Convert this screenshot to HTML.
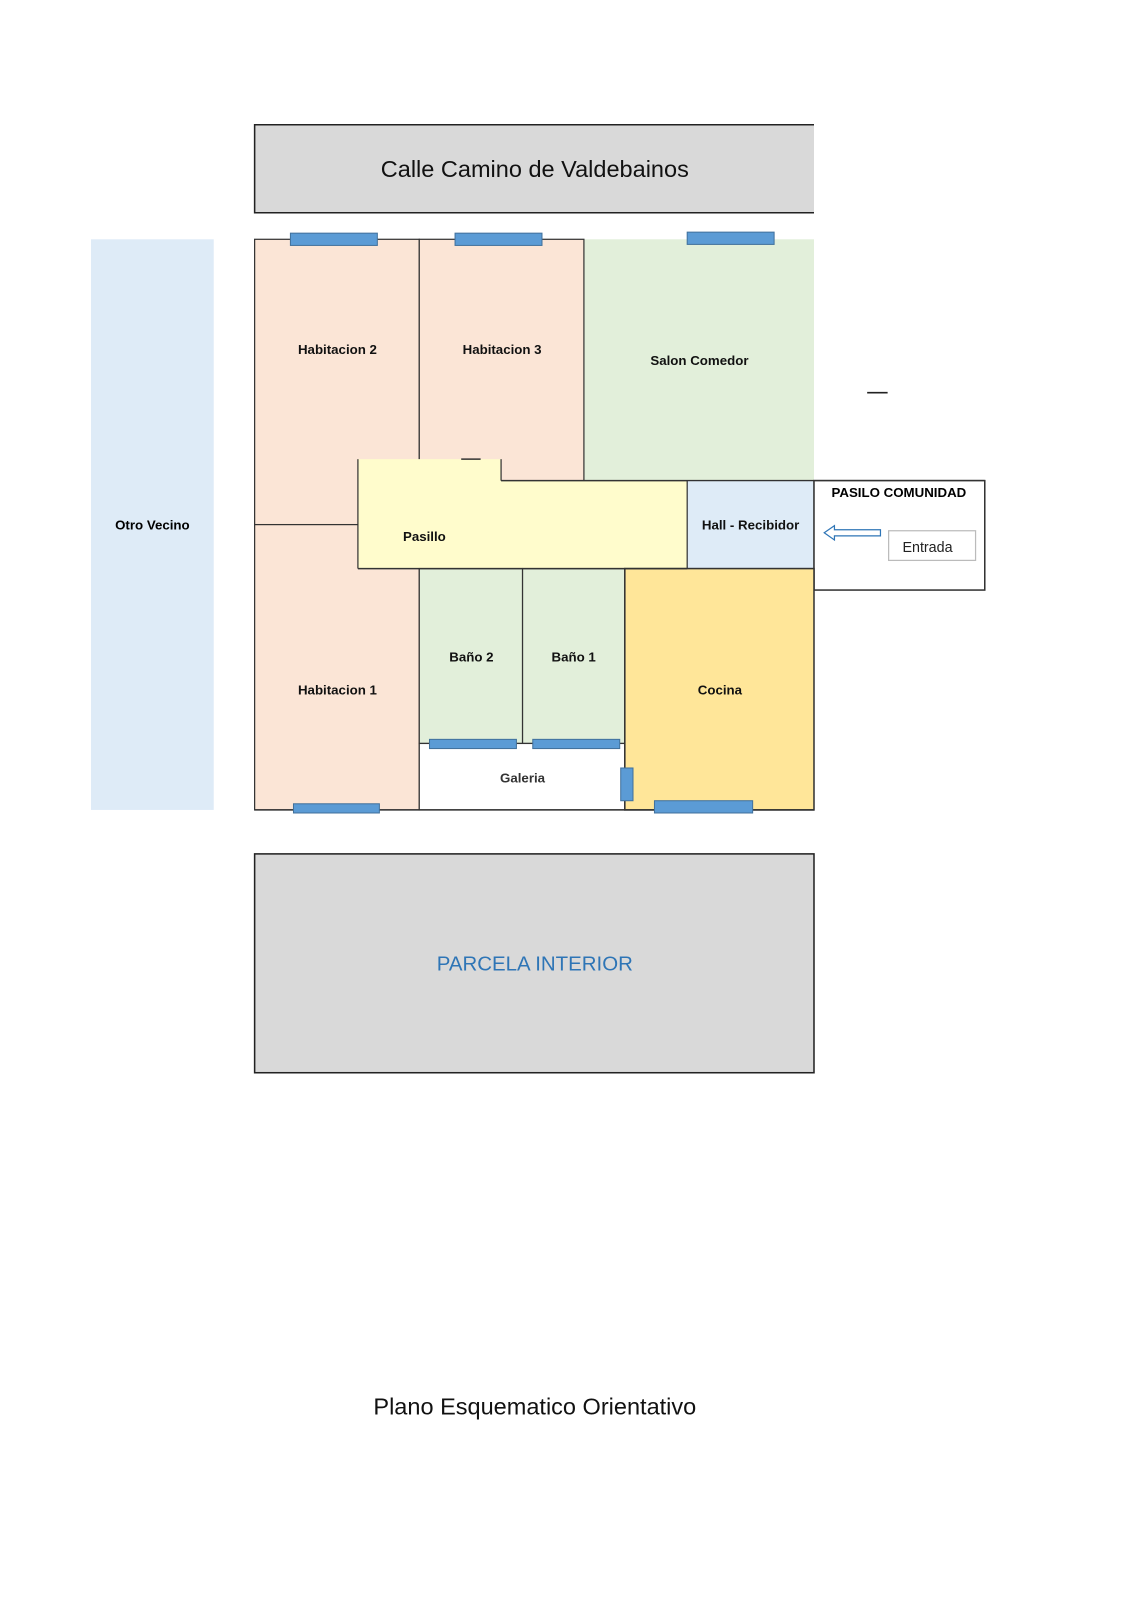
<!DOCTYPE html>
<html><head><meta charset="utf-8"><style>html,body{margin:0;padding:0;background:#fff}svg{display:block}</style></head><body>
<svg width="1131" height="1600" viewBox="0 0 1106 1564.6" preserveAspectRatio="none" xmlns="http://www.w3.org/2000/svg" font-family="Liberation Sans, sans-serif">
<rect x="249" y="122" width="547" height="86" fill="#d9d9d9"/>
<polyline points="796,122 249,122 249,208 796,208" fill="none" stroke="#222" stroke-width="1.5"/>
<text x="523" y="173" font-size="23" text-anchor="middle" fill="#111">Calle  Camino de Valdebainos</text>
<rect x="89" y="234" width="120" height="558" fill="#deebf7"/>
<text x="149" y="518" font-size="13" font-weight="bold" text-anchor="middle">Otro Vecino</text>
<rect x="571" y="234" width="225" height="236" fill="#e2efda"/>
<rect x="249" y="234" width="161" height="279" fill="#fbe5d6" stroke="#333" stroke-width="1.2"/>
<rect x="410" y="234" width="161" height="236" fill="#fbe5d6" stroke="#333" stroke-width="1.2"/>
<rect x="249" y="513" width="161" height="279" fill="#fbe5d6" stroke="#333" stroke-width="1.2"/>
<polygon points="350,449 490,449 490,470 672,470 672,556 350,556" fill="#fffccc"/>
<line x1="350" y1="556" x2="350" y2="449" stroke="#333" stroke-width="1.2"/>
<line x1="490" y1="449" x2="490" y2="470" stroke="#333" stroke-width="1.2"/>
<line x1="490" y1="470" x2="963" y2="470" stroke="#333" stroke-width="1.5"/>
<line x1="451" y1="449" x2="470" y2="449" stroke="#333" stroke-width="1.5"/>
<rect x="672" y="470" width="124" height="86" fill="#deebf7" stroke="#333" stroke-width="1.2"/>
<rect x="796" y="470" width="167" height="107" fill="#fff" stroke="#333" stroke-width="1.5"/>
<rect x="869" y="519" width="85" height="29" fill="#fff" stroke="#bbb" stroke-width="1.2"/>
<text x="907" y="540" font-size="14" text-anchor="middle" fill="#222">Entrada</text>
<polygon points="806,521 816,514 816,518 861,518 861,524 816,524 816,528" fill="#fff" stroke="#2e75b6" stroke-width="1.2"/>
<text x="879" y="486" font-size="13" font-weight="bold" text-anchor="middle">PASILO COMUNIDAD</text>
<rect x="410" y="556" width="101" height="171" fill="#e2efda" stroke="#333" stroke-width="1.2"/>
<rect x="511" y="556" width="100" height="171" fill="#e2efda" stroke="#333" stroke-width="1.2"/>
<rect x="410" y="727" width="201" height="65" fill="#fff" stroke="#333" stroke-width="1.2"/>
<rect x="611" y="556" width="185" height="236" fill="#ffe699" stroke="#333" stroke-width="1.5"/>
<line x1="350" y1="556" x2="672" y2="556" stroke="#333" stroke-width="1.5"/>
<line x1="249" y1="792" x2="796" y2="792" stroke="#333" stroke-width="1.5"/>
<g fill="#5b9bd5" stroke="#41719c" stroke-width="1">
<rect x="284" y="228" width="85" height="12"/>
<rect x="445" y="228" width="85" height="12"/>
<rect x="672" y="227" width="85" height="12"/>
<rect x="287" y="786" width="84" height="9"/>
<rect x="420" y="723" width="85" height="9"/>
<rect x="521" y="723" width="85" height="9"/>
<rect x="640" y="783" width="96" height="12"/>
<rect x="607" y="751" width="12" height="32"/>
</g>
<line x1="848" y1="384" x2="868" y2="384" stroke="#222" stroke-width="1.5"/>
<g font-size="13" font-weight="bold" text-anchor="middle" fill="#111">
<text x="330" y="346">Habitacion 2</text>
<text x="491" y="346">Habitacion 3</text>
<text x="684" y="357">Salon Comedor</text>
<text x="415" y="529">Pasillo</text>
<text x="734" y="518">Hall - Recibidor</text>
<text x="330" y="679">Habitacion 1</text>
<text x="461" y="647">Baño 2</text>
<text x="561" y="647">Baño 1</text>
<text x="704" y="679">Cocina</text>
<text x="511" y="765" fill="#333">Galeria</text>
</g>
<rect x="249" y="835" width="547" height="214" fill="#d9d9d9" stroke="#222" stroke-width="1.5"/>
<text x="523" y="949" font-size="20" text-anchor="middle" fill="#2e75b6">PARCELA  INTERIOR</text>
<text x="523" y="1383" font-size="23" text-anchor="middle" fill="#111">Plano Esquematico Orientativo</text>
</svg>
</body></html>
